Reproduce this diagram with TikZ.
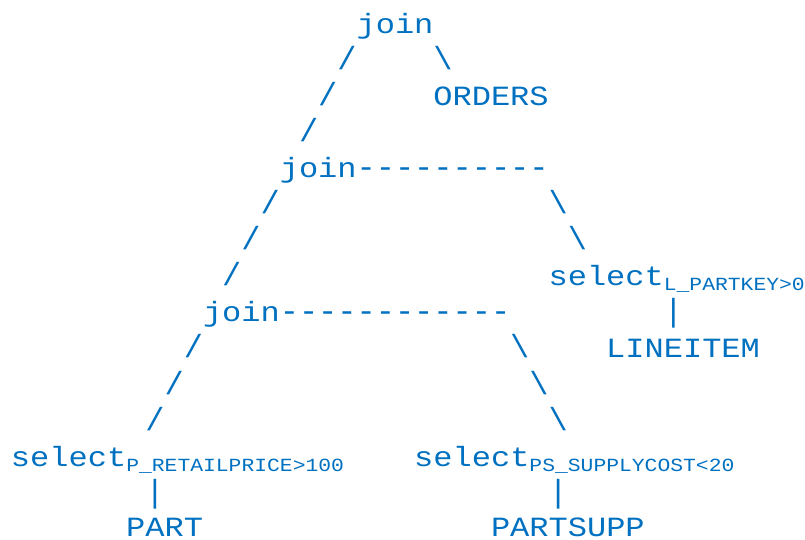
\documentclass[tikz,border=0pt]{standalone}
\usepackage{fontspec}
% letters: slightly shorter glyphs on the same 0.6em pitch
\setmonofont{Liberation Mono}[Scale=0.87, FakeStretch=1.15]
% strokes (slashes, bars, rules) at full size
\newfontfamily\strokefont{Liberation Mono}
\definecolor{ink}{HTML}{0070C0}
% one unit = one character cell across, one text row down
\tikzset{
  txt/.style={inner sep=0pt, outer sep=0pt, anchor=base west, text=ink,
              font=\ttfamily\fontsize{24}{24}\selectfont},
  stroke/.style={txt, font=\strokefont\fontsize{24}{24}\selectfont},
}
\newcommand\subcond[1]{\raisebox{-3.75pt}{\fontsize{16}{16}\selectfont #1}}
\begin{document}
\begin{tikzpicture}[x=14.4pt, y=-27.075pt]
\useasboundingbox (-0.5729,-0.9141) rectangle (41.354,14.017);

% top join with ORDERS
\node[txt] (joinA) at (18,0) {join};
\node[stroke] (lA1) at (17,1) {/};
\node[stroke] (rA1) at (22,1) {\textbackslash};
\node[stroke] (lA2) at (16,2) {/};
\node[txt] (orders) at (22,2) {ORDERS};
\node[stroke] (lA3) at (15,3) {/};

% middle join with LINEITEM
\node[txt] (joinB) at (14,4) {join};
\node[stroke] (barB) at (18,4) {----------};
\node[stroke] (lB1) at (13,5) {/};
\node[stroke] (rB1) at (28,5) {\textbackslash};
\node[stroke] (lB2) at (12,6) {/};
\node[stroke] (rB2) at (29,6) {\textbackslash};
\node[stroke] (lB3) at (11,7) {/};
\node[txt] (selL) at (28,7) {select\subcond{L\_PARTKEY>0}};
\node[stroke] (pipeL) at (34,8) {|};
\node[txt] (lineitem) at (31,9) {LINEITEM};

% bottom join with PART and PARTSUPP
\node[txt] (joinC) at (10,8) {join};
\node[stroke] (barC) at (14,8) {------------};
\node[stroke] (lC1) at (9,9) {/};
\node[stroke] (rC1) at (26,9) {\textbackslash};
\node[stroke] (lC2) at (8,10) {/};
\node[stroke] (rC2) at (27,10) {\textbackslash};
\node[stroke] (lC3) at (7,11) {/};
\node[stroke] (rC3) at (28,11) {\textbackslash};
\node[txt] (selP) at (0,12) {select\subcond{P\_RETAILPRICE>100}};
\node[txt] (selPS) at (21,12) {select\subcond{PS\_SUPPLYCOST<20}};
\node[stroke] (pipeP) at (7,13) {|};
\node[stroke] (pipePS) at (28,13) {|};
\node[txt] (part) at (6,13.95) {PART};
\node[txt] (partsupp) at (25,13.95) {PARTSUPP};
\end{tikzpicture}
\end{document}
